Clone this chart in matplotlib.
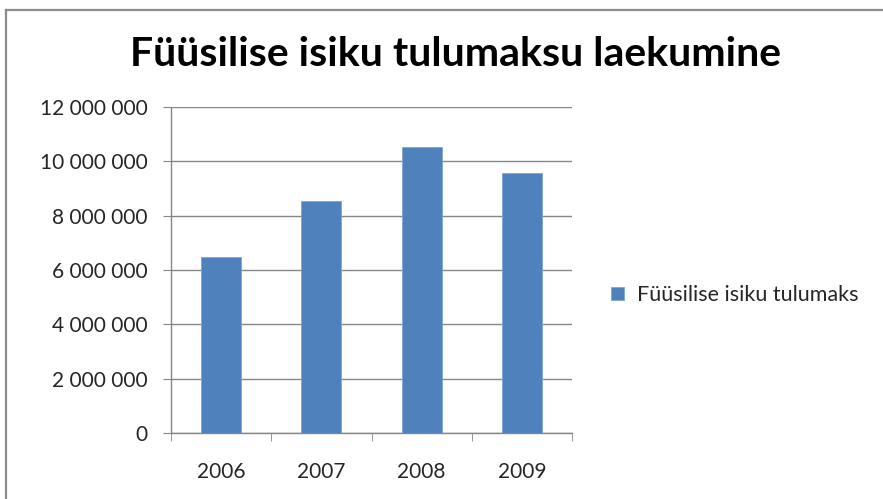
import matplotlib.pyplot as plt
from matplotlib.ticker import FuncFormatter, FixedLocator
from matplotlib.lines import Line2D

# data
years = ['2006', '2007', '2008', '2009']
laekumine = [6470000, 8540000, 10530000, 9560000]
y_ticks = [0, 2000000, 4000000, 6000000, 8000000, 10000000, 12000000]

title = 'Füüsilise isiku tulumaksu laekumine'
series_name = 'Füüsilise isiku tulumaks'

plt.rcParams['font.family'] = ['Lato', 'DejaVu Sans']

bar_color = '#4F81BD'
grid_color = '#868686'
text_color = '#262626'

fig = plt.figure(figsize=(8.83, 4.99), dpi=100)

# outer chart frame (left and top edges only are visible)
frame_x = 6 / 883
frame_y = 1 - 10 / 499
fig.add_artist(Line2D([frame_x, frame_x], [0, frame_y], color='#8c8c8c', lw=1.6,
                      transform=fig.transFigure))
fig.add_artist(Line2D([frame_x, 1], [frame_y, frame_y], color='#8c8c8c', lw=1.6,
                      transform=fig.transFigure))

ax = fig.add_axes([171 / 883, 1 - 433 / 499, 401 / 883, 326 / 499])

x = range(len(years))
ax.bar(x, laekumine, width=0.4, color=bar_color, edgecolor='#7fa4d3', linewidth=0.6,
       label=series_name, zorder=3)

ax.set_xlim(-0.5, len(years) - 0.5)
ax.set_ylim(0, 12000000)
ax.set_yticks(y_ticks)
ax.yaxis.set_major_formatter(FuncFormatter(lambda v, p: f'{int(v):,}'.replace(',', ' ')))
ax.set_xticks(list(x))
ax.set_xticklabels(years)
ax.xaxis.set_minor_locator(FixedLocator([i - 0.5 for i in range(len(years) + 1)]))

ax.grid(axis='y', color=grid_color, linewidth=1.0, zorder=0)
ax.tick_params(axis='y', length=6, color=grid_color, labelsize=15, labelcolor=text_color, pad=11)
ax.tick_params(axis='x', which='major', length=0, labelsize=15, labelcolor=text_color, pad=21)
ax.tick_params(axis='x', which='minor', length=6, color=grid_color)

for side in ['top', 'right']:
    ax.spines[side].set_visible(False)
for side in ['left', 'bottom']:
    ax.spines[side].set_color(grid_color)
    ax.spines[side].set_linewidth(1.0)

fig.text(455 / 883, 1 - 55 / 499, title, ha='center', va='center',
         fontsize=29.5, fontweight='bold', color='black')

fig.legend(loc='center left', bbox_to_anchor=(592 / 883, 1 - 295 / 499), frameon=False,
           fontsize=15.5, handlelength=0.6, handleheight=0.6, handletextpad=0.6,
           labelcolor=text_color)

fig.savefig('out.png', dpi=100)
